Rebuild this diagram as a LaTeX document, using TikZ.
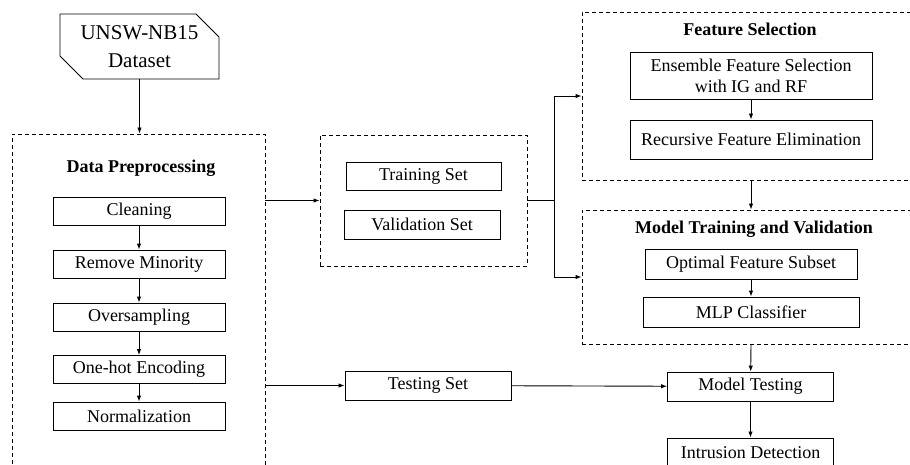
\documentclass[tikz,border=0pt]{standalone}
\usepackage{fontspec}
\setmainfont{Liberation Serif}
\usetikzlibrary{arrows.meta,shapes.misc}
\tikzset{
  >={Latex[length=6pt,width=4.5pt]},
  stage/.style={draw, line width=0.9pt, inner sep=0pt, align=center, font=\rmfamily\fontsize{18}{21}\selectfont},
  group/.style={draw, line width=0.9pt, dash pattern=on 4pt off 3pt, inner sep=0pt},
  heading/.style={font=\rmfamily\fontsize{18}{21}\selectfont\bfseries},
  link/.style={->, line width=0.9pt}
}
\begin{document}
\begin{tikzpicture}[x=1pt, y=-1pt]
  \useasboundingbox (0,0) rectangle (910,465);
  \clip (0,0) rectangle (910,465);

  % Input data
  \node[draw, line width=0.9pt, chamfered rectangle, chamfered rectangle corners={north east,south west},
        chamfered rectangle xsep=12pt, chamfered rectangle ysep=11pt, minimum width=159pt, minimum height=65pt,
        inner sep=0pt, align=center, font=\rmfamily\fontsize{21}{28}\selectfont] (dataset) at (139.5,46.5) {UNSW-NB15\\Dataset};

  % Preprocessing
  \node[group, minimum width=253pt, minimum height=351pt] (prep) at (138.5,309.5) {};
  \node[heading] (preptitle) at (141,168) {Data Preprocessing};
  \node[stage, minimum width=172pt, minimum height=28pt] (clean) at (139,211) {Cleaning};
  \node[stage, minimum width=172pt, minimum height=28pt] (minority) at (139,264) {Remove Minority};
  \node[stage, minimum width=172pt, minimum height=28pt] (oversample) at (139,317) {Oversampling};
  \node[stage, minimum width=172pt, minimum height=28pt] (onehot) at (139,369.5) {One-hot Encoding};
  \node[stage, minimum width=172pt, minimum height=28pt] (normal) at (139,416) {Normalization};
  \draw[link] (clean) -- (minority);
  \draw[link] (minority) -- (oversample);
  \draw[link] (oversample) -- (onehot);
  \draw[link] (onehot) -- (normal);
  \draw[link] (dataset.south) -- (dataset.south |- prep.north);

  % Split
  \node[group, minimum width=207pt, minimum height=131pt] (split) at (423.5,200.5) {};
  \node[stage, minimum width=155pt, minimum height=28pt] (trainset) at (423.5,176) {Training Set};
  \node[stage, minimum width=156pt, minimum height=29pt] (valset) at (422,224.5) {Validation Set};
  \node[stage, minimum width=166pt, minimum height=29pt] (testset) at (428,385.5) {Testing Set};
  \draw[link] (prep.east |- split.west) -- (split.west);
  \draw[link] (prep.east |- testset.west) -- (testset.west);

  % Feature selection
  \node[group, minimum width=343pt, minimum height=168pt] (fs) at (753.5,96) {};
  \node[heading] (fstitle) at (750,29) {Feature Selection};
  \node[stage, minimum width=242pt, minimum height=47pt] (ensemble) at (751,75.5) {Ensemble Feature Selection\\with IG and RF};
  \node[stage, minimum width=242pt, minimum height=39pt] (rfe) at (751,139.5) {Recursive Feature Elimination};
  \draw[link] (ensemble) -- (rfe);

  % Training and validation
  \node[group, minimum width=343pt, minimum height=134pt] (mt) at (753.5,277) {};
  \node[heading] (mttitle) at (754,229) {Model Training and Validation};
  \node[stage, minimum width=212pt, minimum height=30pt] (subset) at (751,264) {Optimal Feature Subset};
  \node[stage, minimum width=216pt, minimum height=30pt] (mlp) at (751,312) {MLP Classifier};
  \draw[link] (subset) -- (mlp);

  \coordinate (fork) at (554,200.5);
  \draw[line width=0.9pt] (split.east) -- (fork);
  \draw[link] (fork) |- (fs.west);
  \draw[link] (fork) |- (mt.west);
  \draw[link] (rfe.south |- fs.south) -- (rfe.south |- mt.north);

  % Testing
  \node[stage, minimum width=166pt, minimum height=29pt] (modeltest) at (750.5,386.5) {Model Testing};
  \node[stage, minimum width=166pt, minimum height=29pt] (detect) at (750.5,452.5) {Intrusion Detection};
  \draw[link] (mlp.south |- mt.south) -- (modeltest);
  \draw[link] (testset) -- (modeltest);
  \draw[link] (modeltest) -- (detect);
\end{tikzpicture}
\end{document}
